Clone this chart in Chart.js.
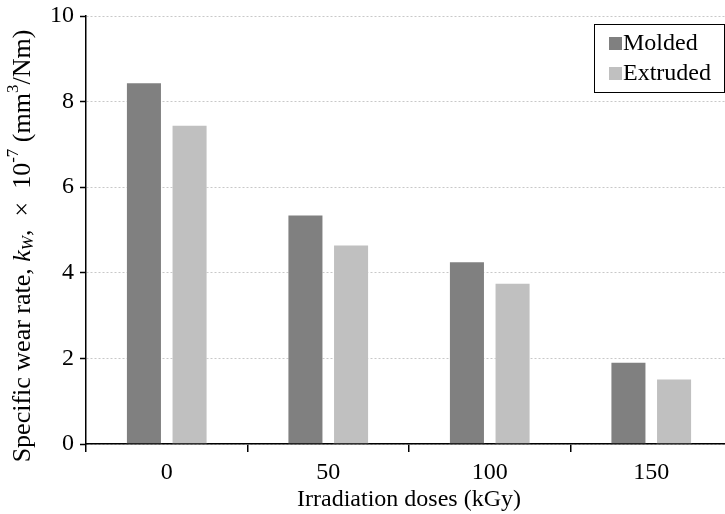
<!DOCTYPE html>
<html>
<head>
<meta charset="utf-8">
<script src="https://cdn.jsdelivr.net/npm/chart.js@4/dist/chart.umd.min.js"></script>
<style>
  html, body { margin: 0; padding: 0; background: #fff; overflow: hidden; }
  #wrap { width: 732px; height: 514px; overflow: hidden; }
</style>
</head>
<body>
<div id="wrap"><canvas id="c" width="732" height="514"></canvas></div>
<script>
const categories = ['0', '50', '100', '150'];
const seriesNames = ['Molded', 'Extruded'];
const molded = [8.45, 5.36, 4.27, 1.92];
const extruded = [7.46, 4.66, 3.77, 1.53];
const yTicks = [0, 2, 4, 6, 8, 10];
const xTitle = 'Irradiation doses (kGy)';

const FONT = '"Liberation Serif", "Times New Roman", serif';
const FS = 24;
const TFS = 26;

const yTitlePlugin = {
  id: 'yTitle',
  afterDraw(chart) {
    const ctx = chart.ctx;
    const small = Math.round(TFS * 0.66);
    const segs = [
      { t: 'Specific wear rate, ', s: TFS, st: 'normal', dy: 0 },
      { t: 'k', s: TFS, st: 'italic', dy: 0 },
      { t: 'W', s: small, st: 'italic', dy: 6 },
      { t: ',  \u00d7  10', s: TFS, st: 'normal', dy: 0 },
      { t: '-7', s: small, st: 'normal', dy: -9 },
      { t: ' (mm', s: TFS, st: 'normal', dy: 0 },
      { t: '3', s: small, st: 'normal', dy: -9 },
      { t: '/Nm)', s: TFS, st: 'normal', dy: 0 }
    ];
    ctx.save();
    let total = 0;
    segs.forEach(g => {
      ctx.font = g.st + ' ' + g.s + 'px ' + FONT;
      g.w = ctx.measureText(g.t).width;
      total += g.w;
    });
    const cx = 23, cy = 246;
    ctx.translate(cx, cy);
    ctx.rotate(-Math.PI / 2);
    ctx.fillStyle = '#000';
    ctx.textBaseline = 'middle';
    ctx.textAlign = 'left';
    let x = -total / 2;
    segs.forEach(g => {
      ctx.font = g.st + ' ' + g.s + 'px ' + FONT;
      ctx.fillText(g.t, x, g.dy);
      x += g.w;
    });
    ctx.restore();
  }
};

const legendPlugin = {
  id: 'boxLegend',
  afterDraw(chart) {
    const ctx = chart.ctx;
    ctx.save();
    const bx = 594.5, by = 24.5, bw = 130, bh = 68;
    ctx.strokeStyle = '#000';
    ctx.lineWidth = 1;
    ctx.strokeRect(bx, by, bw, bh);
    ctx.font = FS + 'px ' + FONT;
    ctx.textBaseline = 'middle';
    ctx.textAlign = 'left';
    chart.data.datasets.forEach((ds, i) => {
      const yc = 43 + i * 30;
      ctx.fillStyle = ds.backgroundColor;
      ctx.fillRect(609, yc - 6, 13, 13);
      ctx.fillStyle = '#000';
      ctx.fillText(ds.label, 623, yc + 1);
    });
    ctx.restore();
  }
};

new Chart(document.getElementById('c'), {
  type: 'bar',
  data: {
    labels: categories,
    datasets: [
      { label: seriesNames[0], data: molded, backgroundColor: '#808080', borderColor: 'rgba(255,255,255,0.3)', borderWidth: 1 },
      { label: seriesNames[1], data: extruded, backgroundColor: '#c0c0c0', borderColor: 'rgba(255,255,255,0.4)', borderWidth: 1 }
    ]
  },
  options: {
    responsive: false,
    animation: false,
    categoryPercentage: 0.565,
    barPercentage: 0.79,
    layout: { padding: { top: 16, right: 0, left: 0, bottom: 0 } },
    plugins: {
      legend: { display: false },
      tooltip: { enabled: false },
      title: { display: false }
    },
    scales: {
      x: {
        type: 'category',
        offset: true,
        grid: { offset: true, drawOnChartArea: false, drawTicks: true, tickLength: 8, color: '#000', lineWidth: 1.5 },
        border: { display: true, color: '#000', width: 1.5 },
        ticks: { color: '#000', font: { family: FONT, size: FS }, padding: 6 },
        title: { display: true, text: xTitle, color: '#000', font: { family: FONT, size: FS }, padding: { top: -4, bottom: 0 } },
        afterFit(s) { s.height = 70; s.paddingLeft = 0; s.paddingRight = 0; }
      },
      y: {
        min: 0,
        max: 10,
        afterBuildTicks(s) { s.ticks = yTicks.map(v => ({ value: v })); },
        grid: { color: '#c8c8c8', lineWidth: 1, drawTicks: true, tickLength: 6, tickColor: '#000', tickWidth: 1.5 },
        border: { display: true, color: '#000', width: 1.5, dash: [2, 2] },
        ticks: { color: '#000', font: { family: FONT, size: FS }, padding: 6 },
        title: { display: false },
        afterFit(s) { s.width = 86; s.paddingTop = 0; s.paddingBottom = 0; }
      }
    }
  },
  plugins: [yTitlePlugin, legendPlugin]
});
</script>
</body>
</html>
